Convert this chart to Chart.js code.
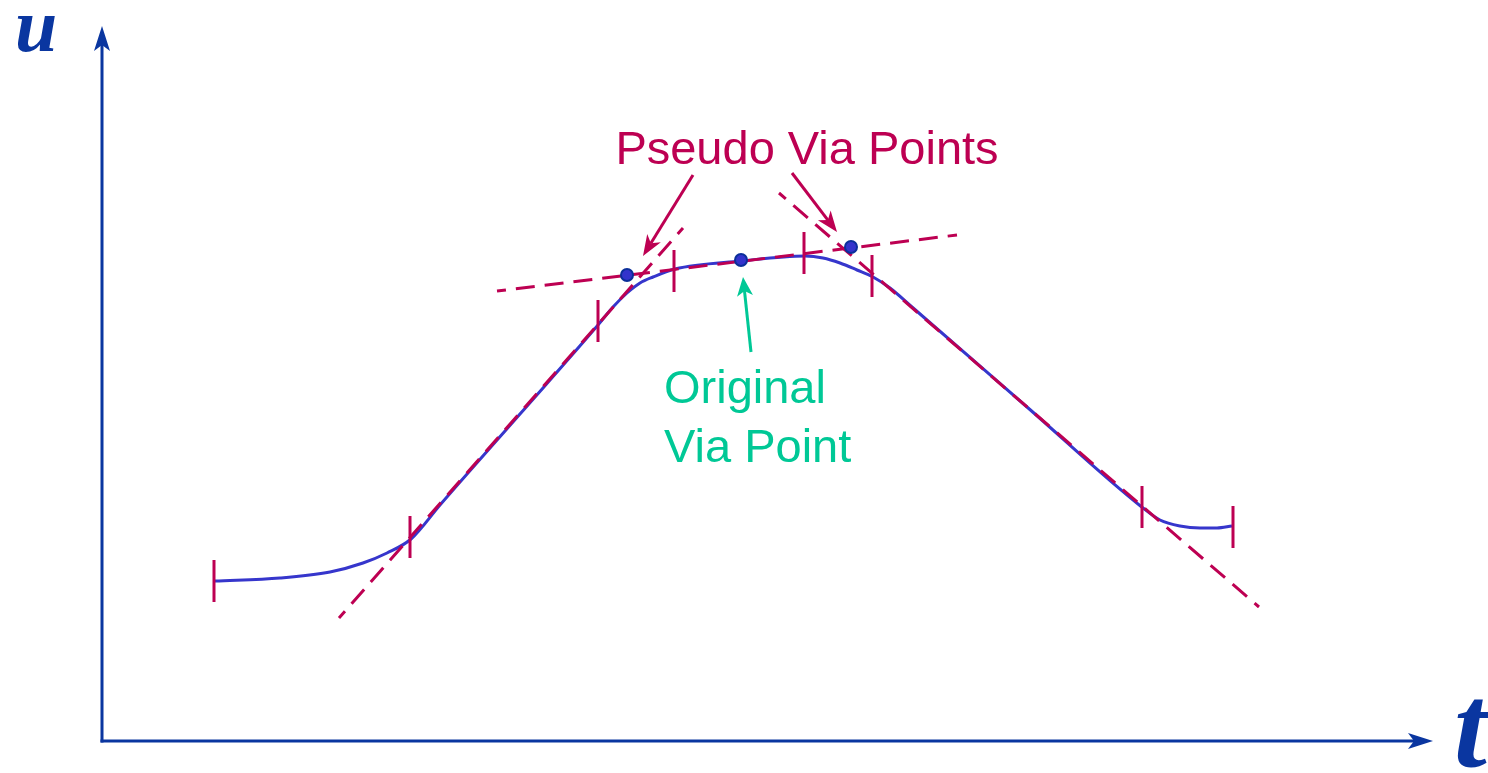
<!DOCTYPE html>
<html lang="en">
<head>
<meta charset="UTF-8">
<title>Pseudo Via Points</title>
<style>
  body { margin: 0; background: #fff; }
  #wrap { width: 1488px; height: 773px; position: relative; }
</style>
</head>
<body>
<div id="wrap"><canvas id="viaChart"></canvas></div>
<script src="https://cdn.jsdelivr.net/npm/chart.js"></script>
<script>
// axis extent (t, u), origin at the corner of the arrows
const tMax = 13.31;
const uMax = 7.15;

// trajectory u(t)
const curveT = [1.13, 1.78, 2.28, 2.61, 2.85, 3.09, 3.38, 4.18, 4.96, 5.11, 5.25, 5.38, 5.51, 5.73, 6.39, 7.03, 7.21, 7.38, 7.55, 7.71, 7.88, 8.10, 9.25, 10.41, 10.58, 10.78, 10.98, 11.15, 11.30];
const curveU = [1.60, 1.63, 1.69, 1.78, 1.88, 2.02, 2.36, 3.27, 4.16, 4.34, 4.48, 4.58, 4.64, 4.72, 4.80, 4.85, 4.83, 4.78, 4.71, 4.64, 4.53, 4.34, 3.34, 2.33, 2.21, 2.15, 2.13, 2.13, 2.15];

// dashed straight-line segments (start/end)
const riseT = [2.37, 5.81];
const riseU = [1.23, 5.13];
const flatT = [3.95, 8.55];
const flatU = [4.50, 5.06];
const fallT = [6.77, 11.57];
const fallU = [5.48, 1.34];

// segment boundaries (vertical ticks)
const knotT = [1.12, 3.08, 4.96, 5.72, 7.02, 7.70, 10.40, 11.31];
const knotU = [1.60, 2.04, 4.20, 4.70, 4.88, 4.65, 2.34, 2.14];

// via points: pseudo, original, pseudo
const viaT = [5.25, 6.39, 7.49];
const viaU = [4.66, 4.81, 4.94];

// annotation arrows [tail t, tail u, tip t, tip u]
const pseudoArrows = [[5.91, 5.66, 5.41, 4.85], [6.90, 5.68, 7.35, 5.09]];
const originalArrow = [6.49, 3.89, 6.41, 4.64];

// labels
const pseudoLabel = { text: 'Pseudo Via Points', t: 7.05, u: 5.77 };
const originalLabel = { lines: ['Original', 'Via Point'], t: 5.62, u: [3.38, 2.79] };
const axisLabels = [{ text: 'u', t: -0.87, u: 6.90, size: 76 }, { text: 't', t: 13.52, u: -0.26, size: 118 }];

const red = '#bd0052';
const green = '#00c896';
const axisBlue = '#0a36a0';
const curveBlue = '#3636cc';

const pts = (ts, us) => ts.map((t, i) => ({ x: t, y: us[i] }));

function arrow(ctx, x0, y0, x1, y1, len, half, notch) {
    const a = Math.atan2(y1 - y0, x1 - x0);
    const c = Math.cos(a), s = Math.sin(a);
    ctx.beginPath();
    ctx.moveTo(x0, y0);
    ctx.lineTo(x1 - c * (len - notch), y1 - s * (len - notch));
    ctx.stroke();
    ctx.beginPath();
    ctx.moveTo(x1, y1);
    ctx.lineTo(x1 - c * len - s * half, y1 - s * len + c * half);
    ctx.lineTo(x1 - c * (len - notch), y1 - s * (len - notch));
    ctx.lineTo(x1 - c * len + s * half, y1 - s * len - c * half);
    ctx.closePath();
    ctx.fill();
}

const overlay = {
    id: 'overlay',
    afterDraw(chart) {
        const ctx = chart.ctx;
        const x = chart.scales.x, y = chart.scales.y;
        const px = v => x.getPixelForValue(v);
        const py = v => y.getPixelForValue(v);
        ctx.save();

        // axes with arrowheads
        ctx.strokeStyle = axisBlue;
        ctx.fillStyle = axisBlue;
        ctx.lineWidth = 3;
        ctx.lineCap = 'square';
        arrow(ctx, px(0), py(0), px(0), py(uMax), 25, 8, 6);
        arrow(ctx, px(0), py(0), px(tMax), py(0), 25, 8, 6);
        ctx.lineCap = 'butt';

        ctx.textAlign = 'left';
        ctx.textBaseline = 'alphabetic';
        axisLabels.forEach(l => {
            ctx.font = 'italic bold ' + l.size + 'px "Liberation Serif"';
            ctx.fillText(l.text, px(l.t), py(l.u));
        });

        // pseudo via point arrows + label
        ctx.strokeStyle = red;
        ctx.fillStyle = red;
        ctx.lineWidth = 3;
        pseudoArrows.forEach(a => arrow(ctx, px(a[0]), py(a[1]), px(a[2]), py(a[3]), 21, 8, 6));
        ctx.font = '47px "Liberation Sans"';
        ctx.textAlign = 'center';
        ctx.fillText(pseudoLabel.text, px(pseudoLabel.t), py(pseudoLabel.u));

        // original via point arrow + label
        ctx.strokeStyle = green;
        ctx.fillStyle = green;
        const g = originalArrow;
        arrow(ctx, px(g[0]), py(g[1]), px(g[2]), py(g[3]), 19, 8, 5);
        ctx.textAlign = 'left';
        originalLabel.lines.forEach((line, i) => {
            ctx.fillText(line, px(originalLabel.t), py(originalLabel.u[i]));
        });

        ctx.restore();
    }
};

function dashed(label, ts, us) {
    return {
        label: label,
        data: pts(ts, us),
        showLine: true,
        borderColor: red,
        borderWidth: 3,
        borderDash: [19, 10],
        borderDashOffset: 10,
        pointRadius: 0,
        order: 2
    };
}

const ctx = document.getElementById('viaChart').getContext('2d');
const chart = new Chart(ctx, {
    type: 'scatter',
    data: {
        datasets: [
            {
                label: 'via points',
                data: pts(viaT, viaU),
                pointRadius: 6,
                pointBackgroundColor: '#3333cc',
                pointBorderColor: '#0b2f9a',
                pointBorderWidth: 2,
                showLine: false,
                order: 0
            },
            {
                label: 'knots',
                data: pts(knotT, knotU),
                pointStyle: 'line',
                rotation: 90,
                pointRadius: 21,
                pointBorderColor: red,
                pointBorderWidth: 3,
                showLine: false,
                order: 1
            },
            dashed('rise', riseT, riseU),
            dashed('flat', flatT, flatU),
            dashed('fall', fallT, fallU),
            {
                label: 'trajectory',
                data: pts(curveT, curveU),
                showLine: true,
                borderColor: curveBlue,
                borderWidth: 3,
                cubicInterpolationMode: 'monotone',
                pointRadius: 0,
                order: 3
            }
        ]
    },
    options: {
        responsive: true,
        maintainAspectRatio: false,
        animation: false,
        events: [],
        layout: {
            padding: { left: 102, right: 55, top: 26, bottom: 32 }
        },
        scales: {
            x: { type: 'linear', min: 0, max: tMax, display: false },
            y: { type: 'linear', min: 0, max: uMax, display: false }
        },
        plugins: {
            legend: { display: false },
            tooltip: { enabled: false }
        }
    },
    plugins: [overlay]
});
</script>
</body>
</html>
